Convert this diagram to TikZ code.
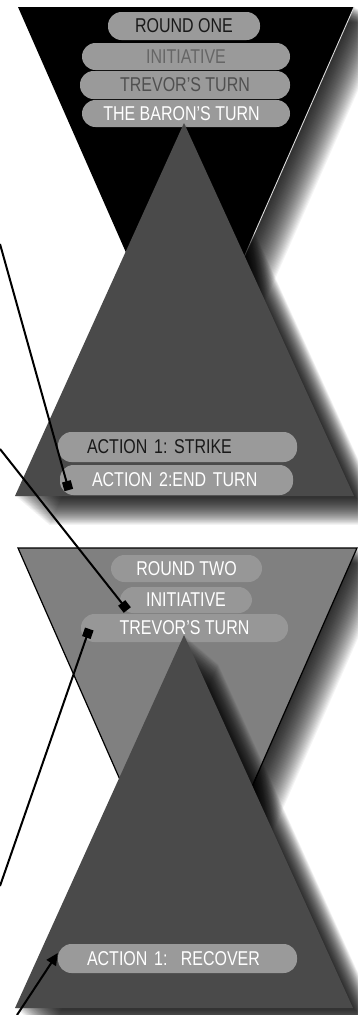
\documentclass[tikz,border=0pt]{standalone}
\usepackage{fontspec}
\setmainfont{Liberation Sans}[FakeStretch=0.8]
\usetikzlibrary{calc,arrows.meta}

\definecolor{pillA}{HTML}{9A9A9A}
\definecolor{pillB}{HTML}{979797}
\definecolor{coneDark}{HTML}{4A4A4A}
\definecolor{funnelMid}{HTML}{808080}
\definecolor{txtMid}{HTML}{666666}
\definecolor{txtDark}{HTML}{505050}
\definecolor{edgeLight}{HTML}{DDDDDD}

\tikzset{
  pill/.style={rectangle, rounded corners=13.5pt, inner xsep=0pt, inner ysep=0pt,
    font=\fontsize{20}{22}\selectfont\frenchspacing},
  leftpill/.style={pill, text width=#1, align=left},
  shadowlayer/.style={fill=black, fill opacity=0.045},
  conn/.style={draw=black, line width=2pt},
  sqend/.style={-{Square[length=9pt,width=9pt]}},
  triend/.style={-{Triangle[length=12pt,width=11pt]}}
}

\begin{document}
\begin{tikzpicture}[x=1pt,y=-1pt]
\useasboundingbox (0,0) rectangle (357,1015);
\fill[white] (0,0) rectangle (357,1015);

% ---------- round one: black funnel ----------
\foreach \k in {1,...,34}
  \fill[shadowlayer, shift={(\k,0.45*\k)}] (18,7) -- (354,7) -- (186,389) -- cycle;
\fill[black] (18,7) -- (354,7) -- (186,389) -- cycle;
\draw[edgeLight, line width=0.9pt] (354,7) -- (186,389);

\node[pill, fill=pillA, minimum width=152pt, minimum height=28pt, text=black!90] (r1) at (184,26) {ROUND ONE};
\node[pill, fill=pillA, minimum width=208pt, minimum height=27pt, text=txtMid] (ini1) at (186,56.5) {INITIATIVE};
\node[pill, fill=pillA, minimum width=210pt, minimum height=28pt, text=txtDark] (trev1) at (185,85) {TREVOR'S TURN};
\node[pill, fill=pillA, minimum width=208pt, minimum height=27pt, text=white] (baron) at (186,113.5) {\hspace*{-9pt}THE BARON'S TURN};

% turn cone
\foreach \k in {1,...,34}
  \fill[shadowlayer, shift={(\k,0.85*\k)}] (184,123) -- (354,496) -- (15,496) -- cycle;
\fill[coneDark] (184,123) -- (354,496) -- (15,496) -- cycle;

\node[leftpill=181pt, fill=pillA, inner xsep=29pt, minimum height=30pt, text=black!90] (act1) at (177.5,447) {ACTION 1: STRIKE};
\node[leftpill=169pt, fill=pillA, inner xsep=32pt, minimum height=30pt, text=white] (act2) at (176.5,480) {ACTION 2:END TURN};

% ---------- round two: grey funnel ----------
\foreach \k in {1,...,34}
  \fill[shadowlayer, shift={(\k,0.45*\k)}] (18,548) -- (357,548) -- (187.5,933) -- cycle;
\fill[funnelMid] (18,548) -- (357,548) -- (187.5,933) -- cycle;
\draw[black, line width=1.2pt] (18,548) -- (357,548) -- (187.5,933) -- cycle;

\node[pill, fill=pillB, minimum width=151pt, minimum height=27pt, text=white] (r2) at (186.5,568.5) {ROUND TWO};
\node[pill, fill=pillB, minimum width=132pt, minimum height=26pt, text=white] (ini2) at (186,600) {INITIATIVE};
\node[pill, fill=pillB, minimum width=207pt, minimum height=28pt, text=white] (trev2) at (184.5,628) {TREVOR'S TURN};

% turn cone
\foreach \k in {1,...,34}
  \fill[shadowlayer, shift={(\k,0.85*\k)}] (184,635) -- (353,1008) -- (15,1008) -- cycle;
\fill[coneDark] (184,635) -- (353,1008) -- (15,1008) -- cycle;

\node[leftpill=181pt, fill=pillA, inner xsep=29pt, minimum height=29pt, text=white] (rec) at (177.5,958.5) {ACTION 1:\ \ RECOVER};

% ---------- connectors ----------
\coordinate (s1) at (0,244);
\coordinate (s2) at (0,449);
\coordinate (s3) at (0,886);
\coordinate (s4) at (17,1015);

\draw[conn, sqend] (s1) -- ($(act2.west)+(9,10)$);
\draw[conn, sqend] (s2) -- ($(ini2.west)+(7.5,10)$);
\draw[conn, sqend] (s3) -- ($(trev2.west)+(8.5,1)$);
\draw[conn, triend] (s4) -- ($(rec.west)+(0,-5.5)$);
\end{tikzpicture}
\end{document}
